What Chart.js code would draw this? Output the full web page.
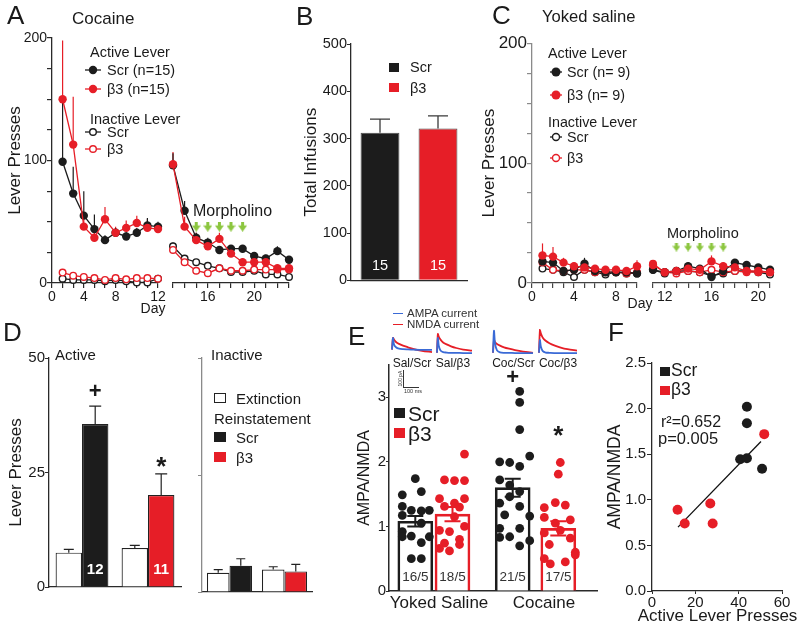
<!DOCTYPE html>
<html><head><meta charset="utf-8">
<script src="https://cdn.jsdelivr.net/npm/chart.js"></script>
<style>
html,body{margin:0;padding:0;background:#fff;}
#root{position:relative;width:800px;height:624px;overflow:hidden;font-family:"Liberation Sans",Arial,sans-serif;color:#1a1a1a;background:#fff;}
.t{position:absolute;white-space:nowrap;}
canvas{position:absolute;}
</style></head><body><div id="root"></div>
<script>
// ================= DATA =================
// Panel A – Cocaine self-administration (lever presses), two session blocks
const aLeftTicks   = ['0','','','4','','','8','','','','12'];
const aActScrL     = [null, 99, 73, 55, 44, 35, 41, 38, 41, 47, 46];
const aActScrLErr  = [null, 53, 22, 20, 12, 4, 4, 4, 4, 6, 4];
const aActB3L      = [null, 150, 113, 46, 37, 52, 41, 45, 49, 45, 44];
const aActB3LErr   = [null, 48, 39, 10, 6, 10, 5, 6, 6, 7, 5];
const aInScrL      = [null, 3.5, 2.5, 2.5, 2.5, 1.5, 2.5, 1.5, 0.5, 0.5, 3.5];
const aInScrLErr   = [null, 1, 1, 1, 1, 1, 1, 1, 1, 1, 1];
const aInB3L       = [null, 8.5, 6, 5, 4, 2.5, 4, 3, 4, 4, 3.5];
const aInB3LErr    = [null, 2, 1, 1, 1, 1, 1, 1, 1, 1, 1];
const aRightDays   = [13, 14, 15, 16, 17, 18, 19, 20, 21, 22, 23];
const aRightShown  = [16, 20];
const aActScrR     = [96, 59, 37, 33, 27, 28, 28, 22, 20, 26, 19];
const aActScrRErr  = [10, 8, 4, 4, 3, 3, 3, 3, 3, 4, 3];
const aActB3R      = [97, 46, 35, 30, 36, 24, 17, 17, 17, 12, 12];
const aActB3RErr   = [10, 8, 6, 4, 5, 5, 3, 3, 3, 3, 3];
const aInScrR      = [30, 20, 17, 14, 12, 9, 9, 10, 7, 7, 5];
const aInScrRErr   = [3, 2, 2, 2, 2, 1, 1, 1, 1, 1, 1];
const aInB3R       = [27, 17, 10, 8, 12, 10, 10, 11, 11, 11, 11];
const aInB3RErr    = [3, 2, 2, 2, 2, 1, 1, 1, 1, 1, 1];
const aMorphDays   = [15, 16, 17, 18, 19];
const aMorphLevel  = 46;

// Panel B – total infusions
const bGroups = ['Scr', 'β3'];
const bTotals = [312, 321];
const bSem    = [29, 27];
const bN      = ['15', '15'];

// Panel C – Yoked saline
const cLeftDays   = [0, 1, 2, 3, 4, 5, 6, 7, 8, 9, 10];
const cLeftShown  = [0, 4, 8];
const cActScrL    = [null, 18, 17, 10, 11, 16, 10, 9, 9, 9, 8];
const cActScrLErr = [null, 3, 3, 2, 2, 5, 2, 2, 2, 2, 2];
const cActB3L     = [null, 23, 22, 17, 14, 13, 12, 11, 11, 10, 14];
const cActB3LErr  = [null, 10, 8, 4, 3, 3, 2, 2, 2, 2, 5];
const cInScrL     = [null, 12, 11, 9, 5, 11, 9, 7, 9, 8, 8];
const cInScrLErr  = [null, 2, 1, 1, 1, 1, 1, 1, 1, 1, 1];
const cInB3L      = [null, 17, 11, 10, 11, 11, 9, 9, 9, 8, 9];
const cInB3LErr   = [null, 2, 1, 1, 1, 1, 1, 1, 1, 1, 1];
const cRightDays  = [11, 12, 13, 14, 15, 16, 17, 18, 19, 20, 21];
const cRightShown = [12, 16, 20];
const cActScrR    = [11, 9, 10, 14, 12, 5, 10, 17, 15, 13, 11];
const cActScrRErr = [2, 2, 2, 3, 2, 2, 2, 3, 3, 2, 2];
const cActB3R     = [15, 9, 10, 12, 11, 18, 14, 13, 10, 10, 9];
const cActB3RErr  = [3, 2, 2, 3, 2, 5, 3, 2, 2, 2, 2];
const cInScrR     = [11, 8, 10, 10, 9, 6, 8, 10, 10, 9, 7];
const cInScrRErr  = [1, 1, 1, 1, 1, 1, 1, 1, 1, 1, 1];
const cInB3R      = [16, 9, 8, 10, 9, 11, 9, 10, 9, 9, 9];
const cInB3RErr   = [2, 1, 1, 1, 1, 1, 1, 1, 1, 1, 1];
const cMorphDays  = [13, 14, 15, 16, 17];
const cMorphLevel = 30;

// Panel D – reinstatement
const dGroups       = ['Scr', 'β3'];
const dExtActive    = [7.5, 8.5];
const dExtActiveSem = [0.7, 0.6];
const dReiActive    = [35.6, 20.1];
const dReiActiveSem = [3.9, 4.6];
const dN            = ['12', '11'];
const dMarks        = ['+', '*'];
const dMarkY        = [42.5, 26];
const dExtInact     = [4.1, 4.8];
const dExtInactSem  = [0.7, 0.6];
const dReiInact     = [5.6, 4.4];
const dReiInactSem  = [1.5, 1.5];

// Panel E – AMPA/NMDA
const eGroupLabels = ['Yoked Saline', 'Cocaine'];
const eBars   = ['Sal/Scr', 'Sal/β3', 'Coc/Scr', 'Coc/β3'];
const eMeans  = [1.08, 1.19, 1.60, 0.97];
const eSem    = [0.08, 0.11, 0.14, 0.11];
const eN      = ['16/5', '18/5', '21/5', '17/5'];
const eMarks  = ['', '', '+', '*'];
const eMarkY  = [null, null, 3.3, 2.38];
const eSalScr = [1.74, 1.54, 1.49, 1.31, 1.25, 1.25, 1.24, 1.17, 1.05, 0.92, 0.85, 0.84, 0.84, 0.75, 0.50, 0.50];
const eSalB3  = [2.12, 1.72, 1.71, 1.71, 1.43, 1.43, 1.36, 1.31, 1.30, 1.15, 1.00, 0.94, 0.92, 0.80, 0.74, 0.72, 0.66, 0.62];
const eCocScr = [3.09, 2.92, 2.50, 2.09, 2.00, 1.99, 1.93, 1.72, 1.64, 1.54, 1.46, 1.36, 1.31, 1.18, 1.16, 0.97, 0.97, 0.84, 0.83, 0.78, 0.70];
const eCocB3  = [1.99, 1.81, 1.37, 1.33, 1.29, 1.14, 1.10, 1.05, 0.94, 0.90, 0.82, 0.72, 0.60, 0.56, 0.50, 0.45, 0.42];
// example current traces (normalised amplitude vs time, ms)
const traceT        = [0, 1, 2, 4, 7, 11, 16, 22, 30, 40];
const trSalScrAMPA  = [0.18, 0.67, 0.40, 0.28, 0.22, 0.20, 0.19, 0.18, 0.17, 0.17];
const trSalScrNMDA  = [0.18, 0.67, 0.60, 0.50, 0.42, 0.35, 0.28, 0.20, 0.13, 0.08];
const trSalB3AMPA   = [0.05, 0.67, 0.35, 0.15, 0.08, 0.06, 0.05, 0.05, 0.04, 0.04];
const trSalB3NMDA   = [0.05, 0.83, 0.72, 0.60, 0.48, 0.40, 0.32, 0.25, 0.18, 0.14];
const trCocScrAMPA  = [0.05, 0.97, 0.45, 0.15, 0.07, 0.05, 0.05, 0.04, 0.04, 0.04];
const trCocScrNMDA  = [0.05, 0.58, 0.50, 0.42, 0.35, 0.28, 0.22, 0.16, 0.10, 0.05];
const trCocB3AMPA   = [0.05, 0.58, 0.30, 0.12, 0.06, 0.05, 0.04, 0.04, 0.04, 0.04];
const trCocB3NMDA   = [0.05, 1.00, 0.85, 0.68, 0.55, 0.45, 0.36, 0.28, 0.20, 0.14];

// Panel F – correlation
const fScrX = [43.8, 43.8, 40.7, 43.8, 50.8];
const fScrY = [2.02, 1.84, 1.445, 1.455, 1.34];
const fB3X  = [51.8, 11.8, 15.1, 26.9, 28.0];
const fB3Y  = [1.72, 0.89, 0.74, 0.96, 0.74];
const fFitX = [12, 50.3];
const fFitY = [0.70, 1.64];

// ================= LAYOUT / STYLE =================
const RED = '#E61E27', BLK = '#1C1C1C', GRN = '#8CC63F', BLUE = '#3A6AD6', AX = '#2a2a2a', TXT = '#1a1a1a';
const FONT = '"Liberation Sans", Arial, Helvetica, sans-serif';
// E: x positions of the four bars (x units, 1 unit = 10 px) and dot jitter
const ePos = [2.63, 6.35, 12.37, 16.93];
const eLabelPos = [5.0, 15.5];
const eJit = [
  [0.0, 0.6, -1.3, -1.3, -0.4, 1.4, 0.6, -1.3, 0.6, -1.3, -0.4, 1.4, -1.3, 0.6, -0.4, 0.6],
  [1.2, -0.8, 0.2, 1.2, -1.3, 1.2, 0.2, -0.8, 0.7, 0.2, 1.2, -1.3, -0.3, 0.7, -0.8, 0.7, -1.3, -0.3],
  [0.7, 0.7, 0.7, 1.7, -1.3, -0.3, 0.7, -1.3, -0.3, 0.7, -0.3, -1.3, 0.7, -0.8, 1.7, -1.3, 0.7, -0.3, -1.3, 1.7, 0.7],
  [0.2, 0.0, -0.3, 0.7, -1.4, -1.4, 1.2, -0.3, 0.2, -1.4, 1.2, -0.9, 1.7, 1.7, -1.4, 0.7, -0.8]
];

Chart.defaults.font.family = FONT;
Chart.defaults.color = TXT;

const root = document.getElementById('root');

function drawErrs(chart, layer) {
  const ctx = chart.ctx;
  chart.data.datasets.forEach((ds, i) => {
    if (!ds.errors || (ds.errLayer || 'after') !== layer) return;
    const meta = chart.getDatasetMeta(i);
    const ys = chart.scales[meta.yAxisID];
    ctx.save();
    ctx.lineWidth = ds.errWidth || 1.2;
    meta.data.forEach((el, j) => {
      const raw = ds.data[j];
      const v = raw == null ? null : (typeof raw === 'object' ? raw.y : raw);
      const e = ds.errors[j];
      if (v == null || e == null) return;
      ctx.strokeStyle = Array.isArray(ds.errColor) ? ds.errColor[j] : ds.errColor;
      const x = el.x;
      const y1 = ys.getPixelForValue(v + e);
      const y0 = ds.errMode === 'both' ? ys.getPixelForValue(v - e) : ys.getPixelForValue(v);
      ctx.beginPath();
      ctx.moveTo(x, y0); ctx.lineTo(x, y1);
      if (ds.errCap) {
        ctx.moveTo(x - ds.errCap / 2, y1); ctx.lineTo(x + ds.errCap / 2, y1);
        if (ds.errMode === 'both') { ctx.moveTo(x - ds.errCap / 2, y0); ctx.lineTo(x + ds.errCap / 2, y0); }
      }
      ctx.stroke();
    });
    ctx.restore();
  });
}
const errPlugin = {
  id: 'errs',
  beforeDatasetsDraw(chart) { drawErrs(chart, 'before'); },
  afterDatasetsDraw(chart) { drawErrs(chart, 'after'); }
};
const annoPlugin = {
  id: 'anno',
  afterDatasetsDraw(chart) {
    const ctx = chart.ctx;
    chart.data.datasets.forEach((ds, i) => {
      const meta = chart.getDatasetMeta(i);
      const ys = chart.scales[meta.yAxisID];
      if (ds.inLabels) {
        ctx.save();
        ctx.fillStyle = ds.inLabelColor; ctx.font = ds.inLabelFont;
        ctx.textAlign = 'center'; ctx.textBaseline = 'middle';
        meta.data.forEach((el, j) => { if (ds.inLabels[j]) ctx.fillText(ds.inLabels[j], el.x, ys.bottom - ds.inLabelOffset); });
        ctx.restore();
      }
      if (ds.marks) {
        ctx.save();
        ctx.fillStyle = TXT; ctx.textAlign = 'center'; ctx.textBaseline = 'middle';
        meta.data.forEach((el, j) => {
          const m = ds.marks[j];
          if (!m) return;
          ctx.font = (m === '*' ? ds.markStarFont : ds.markPlusFont);
          ctx.fillText(m, el.x, ys.getPixelForValue(ds.markY[j]));
        });
        ctx.restore();
      }
    });
  }
};
Chart.register(errPlugin, annoPlugin);

function mk(area, m, cfg) {
  const c = document.createElement('canvas');
  const w = (area.r - area.l) + m.yW + m.pl + m.pr;
  const h = (area.b - area.t) + m.xH + m.pt + m.pb;
  c.width = w; c.height = h;
  c.style.left = (area.l - m.yW - m.pl) + 'px';
  c.style.top = (area.t - m.pt) + 'px';
  c.style.width = w + 'px'; c.style.height = h + 'px';
  root.appendChild(c);
  const o = cfg.options = cfg.options || {};
  o.responsive = false; o.maintainAspectRatio = false; o.animation = false; o.devicePixelRatio = 1; o.events = [];
  o.layout = { padding: { left: m.pl, top: m.pt, right: m.pr, bottom: m.pb } };
  o.plugins = Object.assign({ legend: { display: false }, tooltip: { enabled: false } }, o.plugins || {});
  o.scales.x.afterFit = s => { s.height = m.xH; };
  o.scales.y.afterFit = s => { s.width = m.yW; };
  return new Chart(c, cfg);
}

function T(txt, x, yc, size, o = {}) {
  const d = document.createElement('div');
  d.className = 't';
  d.textContent = txt;
  d.style.fontSize = size + 'px';
  d.style.lineHeight = size + 'px';
  d.style.top = (yc - size / 2) + 'px';
  d.style.left = x + 'px';
  if (o.center) d.style.transform = 'translateX(-50%)';
  if (o.color) d.style.color = o.color;
  if (o.bold) d.style.fontWeight = 'bold';
  root.appendChild(d);
  return d;
}
function lm(x, yc, w, color, filled, r) {
  const d = document.createElement('div');
  d.className = 't';
  d.style.left = x + 'px'; d.style.top = (yc - 6) + 'px'; d.style.lineHeight = '0';
  d.innerHTML = `<svg width="${w}" height="12" style="display:block"><line x1="0" y1="6" x2="${w}" y2="6" stroke="${color}" stroke-width="1.3"/><circle cx="${w / 2}" cy="6" r="${r}" fill="${filled ? color : '#fff'}" stroke="${color}" stroke-width="${filled ? 0 : 1.4}"/></svg>`;
  root.appendChild(d);
}
function sq(x, y, w, h, fill, border) {
  const d = document.createElement('div');
  d.className = 't';
  d.style.cssText += `left:${x}px;top:${y}px;width:${w}px;height:${h}px;background:${fill};border:1px solid ${border};box-sizing:border-box;`;
  root.appendChild(d);
  return d;
}
function hline(x, y, w, color) {
  const d = document.createElement('div');
  d.className = 't';
  d.style.cssText += `left:${x}px;top:${y}px;width:${w}px;height:0;border-top:1.5px solid ${color};`;
  root.appendChild(d);
}

function arrowImg(w, h) {
  const c = document.createElement('canvas'); c.width = w; c.height = h;
  const g = c.getContext('2d'); g.fillStyle = GRN;
  g.fillRect(w / 2 - 1.5, 0, 3, h * 0.5);
  g.beginPath(); g.moveTo(0, h * 0.38); g.lineTo(w, h * 0.38); g.lineTo(w / 2, h); g.closePath(); g.fill();
  return c;
}

function series(data, err, color, filled) {
  return {
    data, errors: err, errColor: color, errLayer: 'before', errWidth: 1.2,
    borderColor: color, borderWidth: 1.3, backgroundColor: filled ? color : '#fff',
    pointRadius: filled ? 4.2 : 3.3, pointBackgroundColor: filled ? color : '#fff',
    pointBorderColor: color, pointBorderWidth: filled ? 0 : 1.4,
    tension: 0, spanGaps: false, clip: false
  };
}
function arrowSet(days, morphDays, level, img) {
  return { data: days.map(d => (morphDays.includes(d) ? level : null)), showLine: false,
    pointStyle: img, pointRadius: 5, borderWidth: 0, clip: false };
}
function yLever(disp, tickFont, titlePad, axc) {
  return {
    display: disp, min: 0, max: 200,
    ticks: { stepSize: 25, padding: 0, font: { size: tickFont }, color: TXT, callback: v => (v % 100 === 0 ? v : '') },
    grid: { drawOnChartArea: false, tickLength: 5, color: axc, lineWidth: 1.2 },
    border: { display: true, color: axc, width: 1.3 },
    title: { display: true, text: 'Lever Presses', font: { size: 17 }, color: TXT, padding: { top: titlePad, bottom: 0 } }
  };
}
function xDays(axc, font, shown) {
  const s = {
    type: 'category', offset: false,
    ticks: { autoSkip: false, maxRotation: 0, minRotation: 0, padding: 1, font: { size: font }, color: TXT },
    grid: { drawOnChartArea: false, tickLength: 5, color: axc, lineWidth: 1.2 },
    border: { display: true, color: axc, width: 1.3 }
  };
  if (shown) s.ticks.callback = function (v) { const d = this.getLabelForValue(v); return shown.includes(d) ? String(d) : ''; };
  return s;
}

// ================= PANEL A =================
const arrowA = arrowImg(9, 10), arrowC = arrowImg(8, 9);
mk({ l: 52, t: 38, r: 158, b: 283 }, { yW: 52, xH: 22, pl: 0, pt: 10, pr: 10, pb: 4 }, {
  type: 'line',
  data: { labels: aLeftTicks, datasets: [
    series(aActB3L, aActB3LErr, RED, true), series(aActScrL, aActScrLErr, BLK, true),
    series(aInB3L, aInB3LErr, RED, false), series(aInScrL, aInScrLErr, BLK, false)] },
  options: { scales: { x: xDays(AX, 14, null), y: yLever(true, 14, 5, AX) } }
});
mk({ l: 173, t: 38, r: 289, b: 283 }, { yW: 0, xH: 22, pl: 10, pt: 10, pr: 10, pb: 4 }, {
  type: 'line',
  data: { labels: aRightDays, datasets: [
    arrowSet(aRightDays, aMorphDays, aMorphLevel, arrowA),
    series(aActB3R, aActB3RErr, RED, true), series(aActScrR, aActScrRErr, BLK, true),
    series(aInB3R, aInB3RErr, RED, false), series(aInScrR, aInScrRErr, BLK, false)] },
  options: { scales: { x: xDays(AX, 14, aRightShown), y: yLever(false, 14, 5, AX) } }
});
T('A', 7, 15, 26);
T('Cocaine', 72, 18.5, 17);
T('Active Lever', 90, 52, 14.5);
lm(85, 70, 16, BLK, true, 4.2); T('Scr (n=15)', 107, 70, 14.5);
lm(85, 89, 16, RED, true, 4.2); T('β3 (n=15)', 107, 89, 14.5);
T('Inactive Lever', 90, 119, 14.5);
lm(85, 132, 16, BLK, false, 3.3); T('Scr', 107, 132, 14.5);
lm(85, 149, 16, RED, false, 3.3); T('β3', 107, 149, 14.5);
T('Morpholino', 193, 211, 16);
T('Day', 153, 308, 14, { center: true });

// ================= PANEL B =================
mk({ l: 351, t: 44, r: 467, b: 283 }, { yW: 50, xH: 2, pl: 0, pt: 10, pr: 6, pb: 4 }, {
  type: 'bar',
  data: { labels: bGroups, datasets: [{
    data: bTotals, backgroundColor: [BLK, RED], borderColor: '#4a4a4a', borderWidth: 1,
    barPercentage: 0.67, categoryPercentage: 1,
    errors: bSem, errMode: 'up', errCap: 20, errColor: '#3a3a3a', errWidth: 1.3, errLayer: 'after',
    inLabels: bN, inLabelColor: '#fff', inLabelFont: '14.5px ' + FONT, inLabelOffset: 14 }] },
  options: { scales: {
    x: { grid: { display: false, drawTicks: false }, border: { display: true, color: AX, width: 1.3 }, ticks: { display: false } },
    y: { min: 0, max: 500, ticks: { stepSize: 100, padding: 0, font: { size: 14.5 }, color: TXT },
      grid: { drawOnChartArea: false, tickLength: 4, color: AX }, border: { display: true, color: AX, width: 1.3 },
      title: { display: true, text: 'Total Infusions', font: { size: 17 }, color: TXT, padding: { top: 0.5, bottom: 0 } } } } }
});
T('B', 296, 15.5, 26);
sq(389, 63, 10, 9, BLK, BLK); T('Scr', 410, 67, 14.5);
sq(389, 83, 10, 9, RED, RED); T('β3', 410, 88, 14.5);

// ================= PANEL C =================
const CAX = '#8a8a8a';
mk({ l: 532, t: 43, r: 637, b: 283 }, { yW: 54, xH: 22, pl: 0, pt: 10, pr: 10, pb: 4 }, {
  type: 'line',
  data: { labels: cLeftDays, datasets: [
    series(cActB3L, cActB3LErr, RED, true), series(cActScrL, cActScrLErr, BLK, true),
    series(cInB3L, cInB3LErr, RED, false), series(cInScrL, cInScrLErr, BLK, false)] },
  options: { scales: { x: xDays('#444', 14, cLeftShown), y: yLever(true, 17, 0.8, CAX) } }
});
mk({ l: 653, t: 43, r: 770, b: 283 }, { yW: 0, xH: 22, pl: 10, pt: 10, pr: 10, pb: 4 }, {
  type: 'line',
  data: { labels: cRightDays, datasets: [
    arrowSet(cRightDays, cMorphDays, cMorphLevel, arrowC),
    series(cActB3R, cActB3RErr, RED, true), series(cActScrR, cActScrRErr, BLK, true),
    series(cInB3R, cInB3RErr, RED, false), series(cInScrR, cInScrRErr, BLK, false)] },
  options: { scales: { x: xDays('#444', 14, cRightShown), y: yLever(false, 17, 0.8, CAX) } }
});
T('C', 492, 15, 26);
T('Yoked saline', 542, 17.5, 16.6);
T('Active Lever', 548, 53, 14.3);
lm(550, 72, 12, BLK, true, 4.5); T('Scr (n= 9)', 567, 72, 14.3);
lm(550, 95, 12, RED, true, 4.5); T('β3 (n= 9)', 567, 95, 14.3);
T('Inactive Lever', 548, 122, 14.3);
lm(550, 137, 12, BLK, false, 3.5); T('Scr', 567, 137, 14.3);
lm(550, 158, 12, RED, false, 3.5); T('β3', 567, 158, 14.3);
T('Morpholino', 667, 233, 14.5);
T('Day', 640, 303, 14, { center: true });

// ================= PANEL D =================
function dScales(showLabels, axc) {
  return {
    x: { grid: { display: false, drawTicks: false }, border: { display: true, color: AX, width: 1.3 }, ticks: { display: false } },
    y: { min: 0, max: 50, ticks: { display: showLabels, stepSize: 25, padding: 0, font: { size: 15 }, color: TXT },
      grid: { drawOnChartArea: false, tickLength: 4, color: axc }, border: { display: true, color: axc, width: 1.3 },
      title: { display: showLabels, text: 'Lever Presses', font: { size: 17 }, color: TXT, padding: { top: 5.8, bottom: 0 } } }
  };
}
mk({ l: 49, t: 358, r: 181, b: 592 }, { yW: 49, xH: 2, pl: 0, pt: 10, pr: 6, pb: 2 }, {
  type: 'bar',
  data: { labels: dGroups, datasets: [
    { label: 'Extinction', data: dExtActive, backgroundColor: '#fff', borderColor: '#222', borderWidth: 1.2,
      barPercentage: 1, categoryPercentage: 0.8,
      errors: dExtActiveSem, errMode: 'up', errCap: 10, errColor: '#222', errLayer: 'after' },
    { label: 'Reinstatement', data: dReiActive, backgroundColor: [BLK, RED], borderColor: '#222', borderWidth: 1.2,
      barPercentage: 1, categoryPercentage: 0.8,
      errors: dReiActiveSem, errMode: 'up', errCap: 12, errColor: '#222', errLayer: 'after',
      inLabels: dN, inLabelColor: '#fff', inLabelFont: 'bold 15px ' + FONT, inLabelOffset: 17,
      marks: dMarks, markY: dMarkY, markPlusFont: 'bold 22px ' + FONT, markStarFont: 'bold 26px ' + FONT }] },
  options: { scales: dScales(true, AX) }
});
mk({ l: 202, t: 358, r: 312, b: 592 }, { yW: 5, xH: 2, pl: 0, pt: 10, pr: 6, pb: 2 }, {
  type: 'bar',
  data: { labels: dGroups, datasets: [
    { label: 'Extinction', data: dExtInact, backgroundColor: '#fff', borderColor: '#222', borderWidth: 1.2,
      barPercentage: 1, categoryPercentage: 0.82,
      errors: dExtInactSem, errMode: 'up', errCap: 9, errColor: '#222', errLayer: 'after' },
    { label: 'Reinstatement', data: dReiInact, backgroundColor: [BLK, RED], borderColor: '#222', borderWidth: 1.2,
      barPercentage: 1, categoryPercentage: 0.82,
      errors: dReiInactSem, errMode: 'up', errCap: 9, errColor: '#222', errLayer: 'after' }] },
  options: { scales: dScales(false, '#8a8a8a') }
});
T('D', 3, 332, 26);
T('Active', 55, 354, 15);
T('Inactive', 211, 354, 15);
sq(214, 393, 12, 10, '#fff', '#222'); T('Extinction', 236, 398, 15);
T('Reinstatement', 214, 418, 15);
sq(214, 432, 12, 10, BLK, BLK); T('Scr', 236, 437, 15);
sq(214, 452, 12, 10, RED, RED); T('β3', 236, 457, 15);

// ================= PANEL E =================
const eColors = [BLK, RED, BLK, RED];
const eDots = [eSalScr, eSalB3, eCocScr, eCocB3];
mk({ l: 389, t: 365, r: 597, b: 591 }, { yW: 34, xH: 23, pl: 0, pt: 10, pr: 6, pb: 0 }, {
  type: 'bar',
  data: { datasets: [
    ...eDots.map((vals, g) => ({ type: 'scatter', data: vals.map((v, i) => ({ x: ePos[g] + eJit[g][i], y: v })),
      pointRadius: 4.4, backgroundColor: eColors[g], borderWidth: 0, clip: false })),
    { type: 'bar', data: eMeans.map((v, i) => ({ x: ePos[i], y: v })), backgroundColor: '#fff', borderColor: eColors,
      borderWidth: 2.6, barThickness: 35,
      errors: eSem, errMode: 'both', errColor: eColors, errCap: 16, errWidth: 2, errLayer: 'after',
      inLabels: eN, inLabelColor: '#333', inLabelFont: '13.5px ' + FONT, inLabelOffset: 14,
      marks: eMarks, markY: eMarkY, markPlusFont: 'bold 22px ' + FONT, markStarFont: 'bold 26px ' + FONT }] },
  options: { scales: {
    x: { type: 'linear', min: 0, max: 20.8, offset: false, grid: { display: false, drawTicks: false },
      border: { display: true, color: AX, width: 1.5 },
      ticks: { padding: 2, font: { size: 17 }, color: TXT, autoSkip: false, maxRotation: 0, callback: (v, i) => eGroupLabels[i] },
      afterBuildTicks: s => { s.ticks = eLabelPos.map(v => ({ value: v })); } },
    y: { min: 0, max: 3.5, ticks: { stepSize: 1, includeBounds: false, padding: 0, font: { size: 15 }, color: TXT },
      grid: { drawOnChartArea: false, tickLength: 3, color: AX }, border: { display: true, color: AX, width: 1.5 },
      title: { display: true, text: 'AMPA/NMDA', font: { size: 16 }, color: TXT, padding: { top: 0.4, bottom: 0 } } } } }
});
function traceChart(area, ampa, nmda) {
  mk(area, { yW: 0, xH: 0, pl: 2, pt: 2, pr: 2, pb: 2 }, {
    type: 'line',
    data: { datasets: [
      { data: traceT.map((t, i) => ({ x: t, y: ampa[i] })), borderColor: BLUE, borderWidth: 1.8, pointRadius: 0, tension: 0.3, clip: false },
      { data: traceT.map((t, i) => ({ x: t, y: nmda[i] })), borderColor: RED, borderWidth: 1.8, pointRadius: 0, tension: 0.3, clip: false }] },
    options: { scales: { x: { type: 'linear', display: false, min: 0, max: 40 }, y: { display: false, min: 0, max: 1 } } }
  });
}
traceChart({ l: 392, t: 330, r: 432, b: 354 }, trSalScrAMPA, trSalScrNMDA);
traceChart({ l: 437, t: 330, r: 472, b: 354 }, trSalB3AMPA, trSalB3NMDA);
traceChart({ l: 493, t: 330, r: 533, b: 354 }, trCocScrAMPA, trCocScrNMDA);
traceChart({ l: 539, t: 330, r: 577, b: 354 }, trCocB3AMPA, trCocB3NMDA);
T('Sal/Scr', 412, 363, 12, { center: true });
T('Sal/β3', 453, 363, 12, { center: true });
T('Coc/Scr', 513.5, 363, 12, { center: true });
T('Coc/β3', 558, 363, 12, { center: true });
hline(393, 313, 10, BLUE); T('AMPA current', 407, 314, 11.5, { color: '#333' });
hline(393, 324, 10, RED); T('NMDA current', 407, 325, 11.5, { color: '#333' });
// scale bar
(function () {
  const d = document.createElement('div'); d.className = 't';
  d.style.cssText += 'left:403px;top:370px;width:15px;height:17px;border-left:1px solid #333;border-bottom:1px solid #333;';
  root.appendChild(d);
  const a = T('100 pA', 393, 378, 5, { color: '#333' }); a.style.transform = 'rotate(-90deg)'; a.style.transformOrigin = '50% 50%';
  T('100 ms', 404, 392, 5.5, { color: '#333' });
})();
T('E', 348, 335.5, 26);
sq(394, 408, 11, 10, BLK, BLK); T('Scr', 408, 413, 21);
sq(394, 428, 11, 10, RED, RED); T('β3', 408, 433, 21);

// ================= PANEL F =================
mk({ l: 652, t: 363, r: 782, b: 591 }, { yW: 47, xH: 26, pl: 0, pt: 10, pr: 18, pb: 0 }, {
  type: 'scatter',
  data: { datasets: [
    { data: fScrX.map((x, i) => ({ x, y: fScrY[i] })), backgroundColor: BLK, pointRadius: 5, borderWidth: 0, clip: false },
    { data: fB3X.map((x, i) => ({ x, y: fB3Y[i] })), backgroundColor: RED, pointRadius: 5, borderWidth: 0, clip: false },
    { type: 'line', data: fFitX.map((x, i) => ({ x, y: fFitY[i] })), borderColor: '#111', borderWidth: 1.3, pointRadius: 0, showLine: true }] },
  options: { scales: {
    x: { type: 'linear', min: 0, max: 60, ticks: { stepSize: 20, padding: 0, font: { size: 15 }, color: TXT, maxRotation: 0 },
      grid: { drawOnChartArea: false, tickLength: 3, color: AX }, border: { display: true, color: AX, width: 1.3 } },
    y: { min: 0, max: 2.5, ticks: { stepSize: 0.5, padding: 1, font: { size: 15 }, color: TXT, callback: v => v.toFixed(1) },
      grid: { drawOnChartArea: false, tickLength: 5, color: AX }, border: { display: true, color: AX, width: 1.3 },
      title: { display: true, text: 'AMPA/NMDA', font: { size: 17.5 }, color: TXT, padding: { top: 0, bottom: 0 } } } } }
});
T('F', 608, 332, 26);
sq(660, 367, 10, 9, BLK, BLK); T('Scr', 671, 371, 17.5);
sq(660, 386, 10, 9, RED, RED); T('β3', 671, 390, 17.5);
T('r²=0.652', 661, 422, 16);
T('p=0.005', 658, 438, 16.5);
T('Active Lever Presses', 717.5, 615, 17, { center: true });
</script></body></html>
